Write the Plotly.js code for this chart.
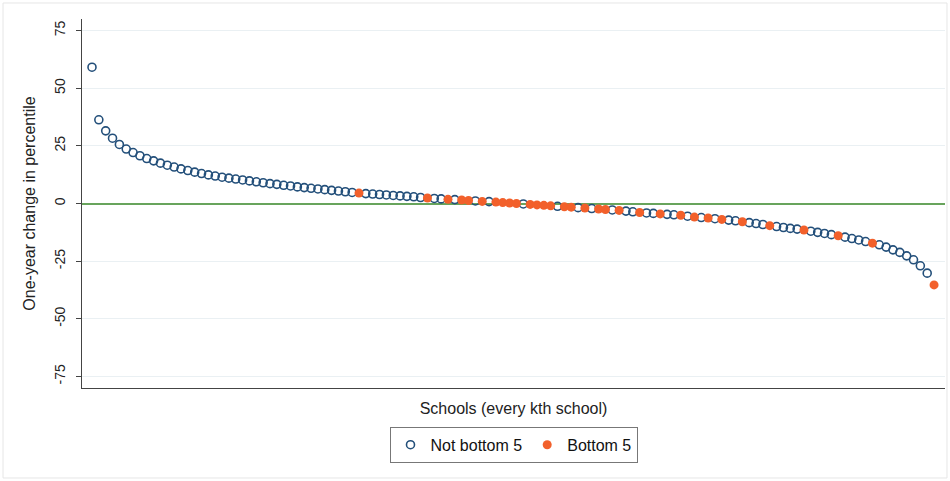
<!DOCTYPE html>
<html>
<head>
<meta charset="utf-8">
<script src="https://cdn.plot.ly/plotly-3.0.1.min.js"></script>
<style>html,body{margin:0;padding:0;background:#fff;}#chart{width:950px;height:481px;}</style>
</head>
<body>
<div id="chart"></div>
<script>
// One-year change in percentile for every kth school, sorted (rank 1..124)
var change = [
  59.1, 36.3, 31.5, 28.3, 25.6, 23.6, 22.1, 20.7, 19.5, 18.5,
  17.5, 16.6, 15.8, 15.0, 14.3, 13.6, 13.0, 12.4, 11.9, 11.4,
  11.0, 10.6, 10.2, 9.8, 9.4, 9.0, 8.6, 8.3, 7.9, 7.6,
  7.2, 6.9, 6.6, 6.3, 6.0, 5.7, 5.4, 5.1, 4.8, 4.5,
  4.3, 4.1, 3.9, 3.7, 3.5, 3.3, 3.1, 2.9, 2.6, 2.4,
  2.2, 2.0, 1.8, 1.7, 1.5, 1.3, 1.1, 0.9, 0.8, 0.6,
  0.4, 0.2, 0.0, -0.2, -0.4, -0.6, -0.8, -1.0, -1.2, -1.4,
  -1.6, -1.8, -2.0, -2.2, -2.4, -2.6, -2.8, -3.0, -3.3, -3.6,
  -3.9, -4.1, -4.3, -4.5, -4.7, -4.9, -5.1, -5.5, -5.9, -6.1,
  -6.3, -6.6, -6.9, -7.2, -7.5, -7.9, -8.3, -8.7, -9.1, -9.6,
  -10.0, -10.4, -10.8, -11.1, -11.5, -12.0, -12.5, -13.0, -13.5, -14.0,
  -14.6, -15.2, -15.8, -16.5, -17.2, -17.9, -18.9, -20.1, -21.2, -22.7,
  -24.4, -27.0, -30.2, -35.3
];
// Ranks (1-based) of the plotted schools that are in the bottom 5
var bottomRanks = [40, 50, 53, 55, 56, 58, 60, 61, 62, 63, 65, 66, 67, 68, 70, 71, 73, 75, 76, 78, 81, 84, 87, 89, 91, 93, 96, 100, 105, 110, 115, 124];
var seriesNames = ["Not bottom 5", "Bottom 5"];
var yTicks = [-75, -50, -25, 0, 25, 50, 75];
var yTitle = "One-year change in percentile";
var xTitle = "Schools (every kth school)";

var xNot = [], yNot = [], xBot = [], yBot = [];
for (var i = 0; i < change.length; i++) {
  var r = i + 1;
  if (bottomRanks.indexOf(r) >= 0) { xBot.push(r); yBot.push(change[i]); }
  else { xNot.push(r); yNot.push(change[i]); }
}

var traces = [
  {x: xNot, y: yNot, type: 'scatter', mode: 'markers', name: seriesNames[0],
   marker: {symbol: 'circle-open', size: 8, color: '#234f7a', line: {width: 1.6, color: '#234f7a'}}},
  {x: xBot, y: yBot, type: 'scatter', mode: 'markers', name: seriesNames[1],
   marker: {symbol: 'circle', size: 9, color: '#f2602b'}}
];

var layout = {
  width: 950, height: 481,
  margin: {l: 82, r: 5, t: 19, b: 93},
  paper_bgcolor: '#ffffff', plot_bgcolor: '#ffffff',
  font: {family: 'Liberation Sans, Arial, sans-serif', size: 13, color: '#222'},
  showlegend: true,
  legend: {orientation: 'h', x: 0.5, xanchor: 'center', y: -0.154, yanchor: 'middle',
    bordercolor: '#777', borderwidth: 1, font: {size: 16, color: '#111'}, itemwidth: 30,
    tracegroupgap: 0},
  xaxis: {range: [-0.46, 125.6], showgrid: false, zeroline: false, showticklabels: false,
    ticks: '', showline: true, linecolor: '#444', linewidth: 1,
    title: {text: xTitle, font: {size: 16, color: '#222'}, standoff: 14}},
  yaxis: {range: [-80, 80], tickvals: yTicks, ticktext: yTicks.map(String), tickangle: -90,
    ticks: 'outside', ticklen: 5, tickcolor: '#444', showline: true, linecolor: '#444', linewidth: 1,
    ticklabelstandoff: 5,
    showgrid: true, gridcolor: '#eaf0f3', gridwidth: 1,
    zeroline: true, zerolinecolor: '#68a45c', zerolinewidth: 2,
    tickfont: {size: 14, color: '#222'},
    title: {text: yTitle, font: {size: 16, color: '#222'}, standoff: 12}},
  shapes: [
    {type: 'rect', xref: 'paper', yref: 'paper', x0: -0.0915, x1: 1.0023, y0: -0.2439, y1: 1.0434,
     line: {color: '#e6e6e6', width: 1}, fillcolor: 'rgba(0,0,0,0)', layer: 'below'}
  ]
};

Plotly.newPlot('chart', traces, layout, {displayModeBar: false, staticPlot: true});
</script>
</body>
</html>
